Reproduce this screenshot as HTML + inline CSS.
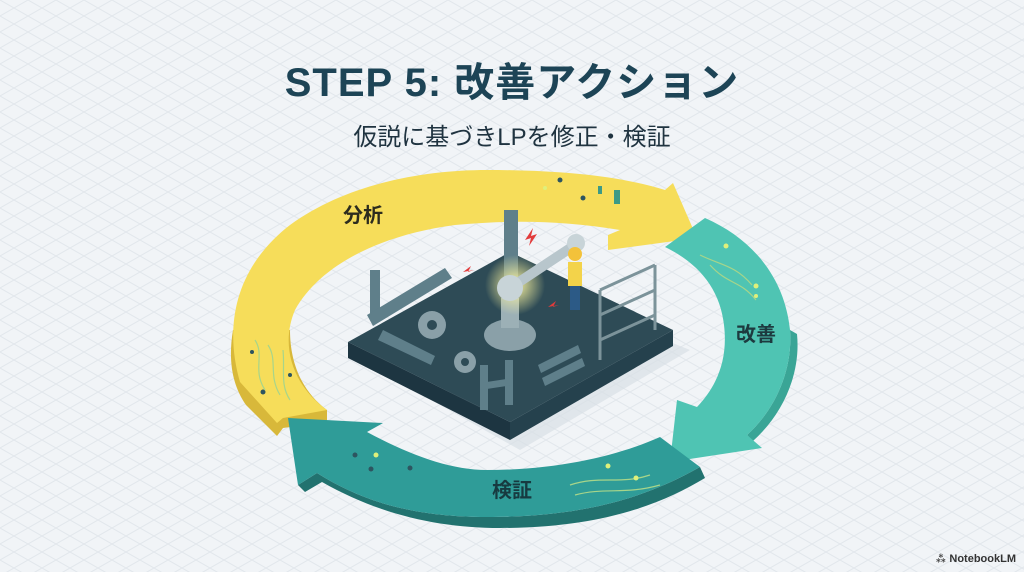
<!DOCTYPE html>
<html><head><meta charset="utf-8">
<style>
html,body{margin:0;padding:0;}
body{width:1024px;height:572px;overflow:hidden;background:#f1f4f7;font-family:"Liberation Sans","Noto Sans CJK JP",sans-serif;position:relative;}
.t{position:absolute;left:0;width:1024px;text-align:center;color:#1d4456;}
</style></head><body>
<svg width="1024" height="572" style="position:absolute;left:0;top:0">
<defs>
<pattern id="g" width="28" height="16" patternUnits="userSpaceOnUse">
<path d="M0 0 L28 16 M28 0 L0 16" stroke="#e2e7ec" stroke-width="1"/>
</pattern>
<radialGradient id="glow"><stop offset="0" stop-color="#fff7a0"/><stop offset="1" stop-color="#fff7a0" stop-opacity="0"/></radialGradient>
</defs>
<rect width="1024" height="572" fill="url(#g)"/>
<path d="M360 360 L520 450 L690 350 L540 290 Z" fill="#d9dfe5" opacity="0.7"/>
<path d="M233 330 C228 360 232 385 246 405 L277 436 L283 428 L327 422 L327 410 C300 390 290 360 290 330 Z" fill="#d8b83a"/>
<path d="M240 382 C225 330 232 270 290 225 C345 185 420 170 487 170 C560 170 620 176 665 190 L673 183 L697 238 L608 250 L608 235 L620 230 C560 220 510 220 455 225 C380 235 320 265 295 310 C280 345 292 385 327 410 L283 418 L277 423 Z" fill="#f6dd5a"/>
<!-- right teal arrow extrusion (follows outer edge) -->
<path d="M790 330 C793 370 775 410 747 435 L753 441 C783 414 801 374 797 334 Z" fill="#3aa596"/>
<path d="M665 247 L705 218 C755 240 785 280 790 330 C793 370 775 410 747 435 L762 448 L670 462 L677 400 L697 407 C718 385 728 358 724 325 C720 290 700 264 665 247 Z" fill="#4fc4b3"/>
<path d="M317 473 L298 485 L305 492 L322 482 C380 515 440 528 500 528 C600 528 660 505 705 478 L700 467 C650 495 590 517 487 517 C410 517 360 500 317 473 Z" fill="#22726f"/>
<path d="M660 437 L700 467 C650 495 590 517 487 517 C410 517 360 500 317 473 L298 485 L288 418 L383 423 L367 432 C410 455 450 470 487 470 C560 470 620 455 660 437 Z" fill="#2f9c98"/>
<g fill="#2d5560">
<circle cx="560" cy="180" r="2.5"/><circle cx="583" cy="198" r="2.5"/>
<circle cx="252" cy="352" r="2"/><circle cx="263" cy="392" r="2.5"/><circle cx="290" cy="375" r="2"/>
<circle cx="355" cy="455" r="2.5"/><circle cx="371" cy="469" r="2.5"/><circle cx="410" cy="468" r="2.5"/>
</g>
<rect x="614" y="190" width="6" height="14" fill="#3c9a86"/><rect x="598" y="186" width="4" height="8" fill="#3c9a86"/>
<g stroke="#a7d58a" stroke-width="1.2" fill="none">
<path d="M255 340 C265 355 252 370 265 390 M268 345 C278 360 268 375 280 395 M283 350 C285 370 280 385 290 400"/>
<path d="M700 255 C720 265 735 265 752 285 M710 265 C728 285 740 280 756 300"/>
<path d="M570 485 C600 475 620 485 650 475 M575 495 C605 487 625 495 660 485"/>
</g>
<g fill="#dff07a"><circle cx="545" cy="188" r="2"/><circle cx="726" cy="246" r="2.5"/><circle cx="756" cy="286" r="2.5"/><circle cx="756" cy="296" r="2"/><circle cx="376" cy="455" r="2.5"/><circle cx="608" cy="466" r="2.5"/><circle cx="636" cy="478" r="2.5"/></g>
<path d="M348 342 L510 252 L673 330 L510 422 Z" fill="#2e4b56"/>
<path d="M348 342 L510 422 L510 440 L348 358 Z" fill="#1d3541"/>
<path d="M510 422 L673 330 L673 346 L510 440 Z" fill="#25414d"/>
<g fill="#5f7f8a">
<rect x="504" y="210" width="14" height="75"/><rect x="370" y="270" width="10" height="50"/>
<path d="M367 315 L445 268 L452 278 L373 326 Z"/>
<path d="M383 330 L435 356 L431 365 L378 340 Z"/>
<path d="M480 365 L488 365 L488 410 L480 410 Z"/><path d="M505 360 L513 360 L513 405 L505 405 Z"/><path d="M480 383 L513 378 L513 385 L480 390 Z"/>
<path d="M538 365 L578 345 L581 353 L541 373 Z"/><path d="M542 378 L582 358 L585 366 L545 386 Z"/>
</g>
<g fill="#8aa0a8">
<circle cx="432" cy="325" r="14"/><circle cx="465" cy="362" r="11"/><ellipse cx="510" cy="335" rx="26" ry="16"/>
</g>
<g fill="#2e4b56"><circle cx="432" cy="325" r="5"/><circle cx="465" cy="362" r="4"/></g>
<rect x="501" y="298" width="18" height="30" fill="#9cb0b6"/>
<circle cx="515" cy="285" r="30" fill="url(#glow)"/>
<path d="M510 288 L575 245" stroke="#b8c6cc" stroke-width="10" stroke-linecap="round"/>
<circle cx="510" cy="288" r="13" fill="#c8d4d8"/><circle cx="576" cy="243" r="9" fill="#c8d4d8"/>
<rect x="568" y="262" width="14" height="24" fill="#f3d34a"/><rect x="570" y="286" width="10" height="24" fill="#2c5a86"/>
<circle cx="575" cy="254" r="7" fill="#f3c23a"/>
<g stroke="#7c939a" stroke-width="3" fill="none"><path d="M600 290 L600 360 M655 265 L655 330 M600 290 L655 265 M600 315 L655 290 M600 340 L655 315 M600 315 L655 290"/></g>
<g fill="#e23b3b"><path d="M525 240 l8 -12 l-2 8 l6 -2 l-8 12 l2 -8 z"/><path d="M463 272 l8 -6 l-3 6 l6 -2 z"/><path d="M548 307 l8 -6 l-3 6 l6 -2 z"/></g>
<text x="363" y="222" font-size="20" font-weight="bold" fill="#2c2c1e" font-family="Liberation Sans,Noto Sans CJK JP,sans-serif" text-anchor="middle">分析</text>
<text x="756" y="341" font-size="20" font-weight="bold" fill="#1d3a3f" font-family="Liberation Sans,Noto Sans CJK JP,sans-serif" text-anchor="middle">改善</text>
<text x="512" y="497" font-size="20" font-weight="bold" fill="#173a40" font-family="Liberation Sans,Noto Sans CJK JP,sans-serif" text-anchor="middle">検証</text>
</svg>
<div class="t" style="top:50px;font-size:40px;font-weight:bold;letter-spacing:1px;">STEP 5: 改善アクション</div>
<div class="t" style="top:117px;font-size:24px;color:#1f3340;">仮説に基づきLPを修正・検証</div>
<div style="position:absolute;right:8px;bottom:6px;font-size:11px;color:#333;font-weight:bold;">⁂ NotebookLM</div>
</body></html>
